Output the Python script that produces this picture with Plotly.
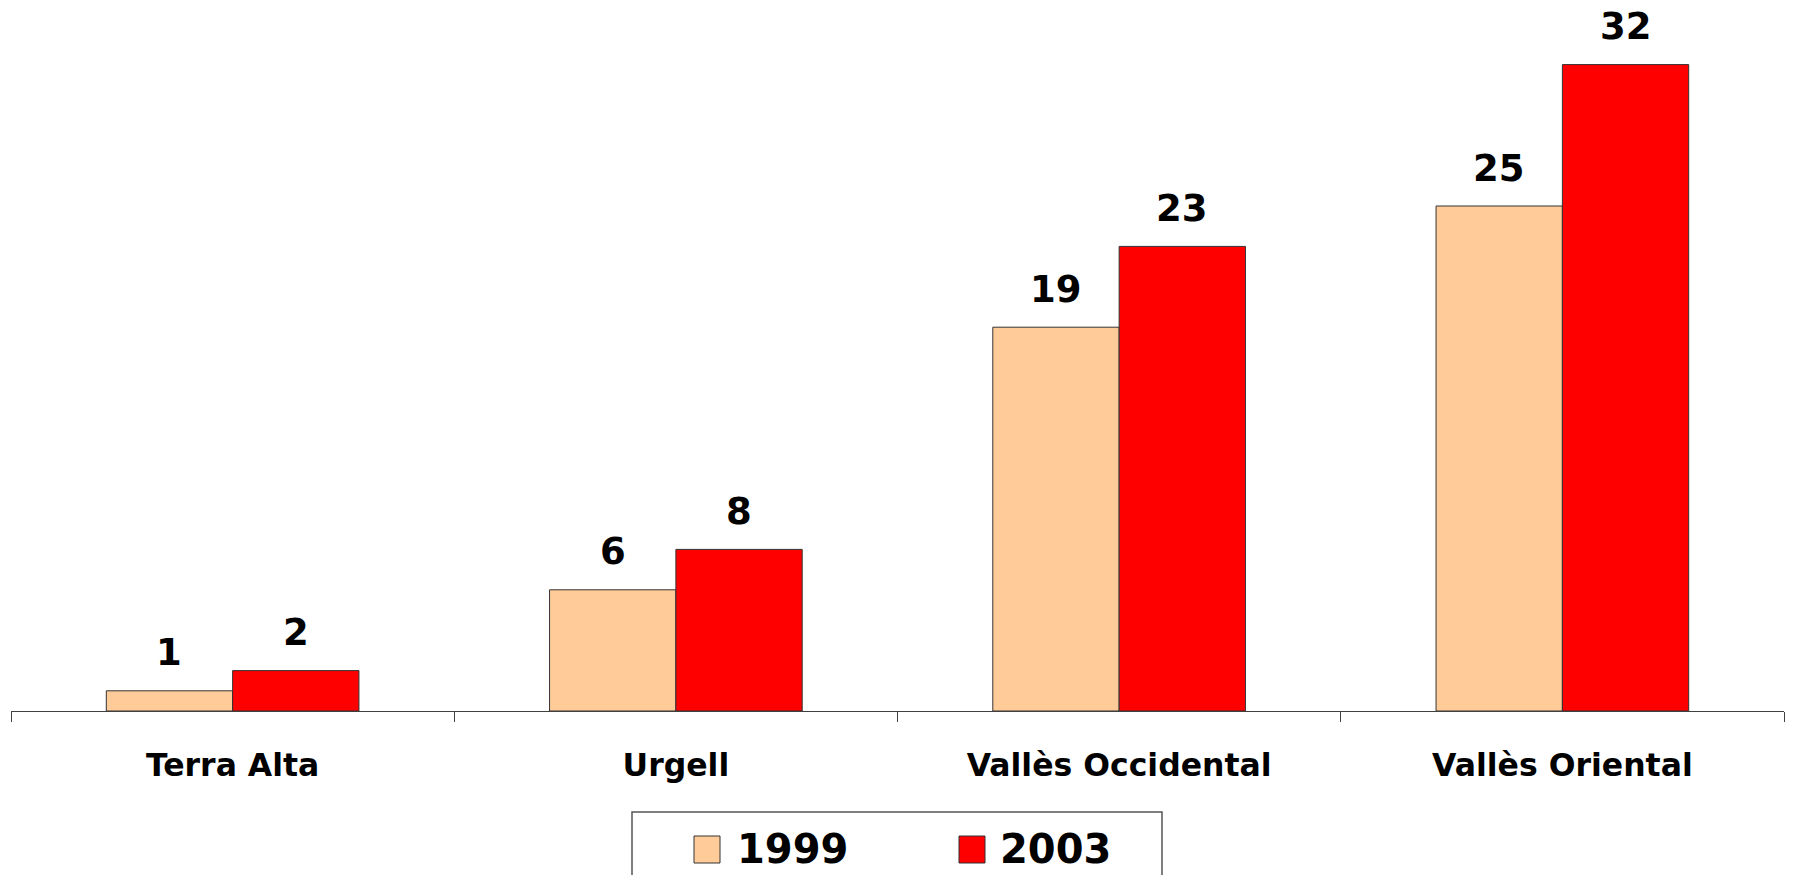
import plotly.graph_objects as go

categories = ["Terra Alta", "Urgell", "Vallès Occidental", "Vallès Oriental"]
series_names = ["1999", "2003"]
values_1999 = [1, 6, 19, 25]
values_2003 = [2, 8, 23, 32]
series_values = [values_1999, values_2003]
colors = ["#FFCC99", "#FF0000"]

W, H = 1793, 875
ml, mr, mt, mb = 11, 9, 10, 164
plot_w = W - ml - mr
plot_h = H - mt - mb
bargap = 0.43
ymax = plot_h / 20.2

FONT = "DejaVu Sans, Verdana, sans-serif"

fig = go.Figure()
for name, vals, col in zip(series_names, series_values, colors):
    fig.add_trace(go.Bar(
        x=categories, y=vals, name=name,
        marker=dict(color=col, line=dict(color="#333333", width=1)),
        showlegend=False, hoverinfo="skip",
    ))

# value labels above bars
cat_px = plot_w / len(categories)
bar_px = cat_px * (1 - bargap) / len(series_names)
annotations = []
for i, vals in enumerate(series_values):
    shift = (i - (len(series_names) - 1) / 2) * bar_px
    for c, v in zip(categories, vals):
        annotations.append(dict(
            x=c, y=v, xref="x", yref="y", text=f"<b>{v}</b>",
            showarrow=False, xshift=shift, yshift=38, yanchor="middle",
            font=dict(family=FONT, size=37, color="black"),
        ))

# manual legend
def px_x(X):
    return (X - ml) / plot_w

def px_y(Y):
    return (H - mb - Y) / plot_h

shapes = [dict(type="rect", xref="paper", yref="paper",
               x0=px_x(632), x1=px_x(1162), y0=px_y(812), y1=px_y(895),
               line=dict(color="#555555", width=1.5), fillcolor="white")]
legend_pos = [(694, 735), (959, 998)]
for (sx, tx), name, col in zip(legend_pos, series_names, colors):
    shapes.append(dict(type="rect", xref="paper", yref="paper",
                       x0=px_x(sx), x1=px_x(sx + 26), y0=px_y(863), y1=px_y(836),
                       line=dict(color="#333333", width=1), fillcolor=col))
    annotations.append(dict(x=px_x(tx), y=px_y(849), xref="paper", yref="paper",
                            text=f"<b>{name}</b>", showarrow=False,
                            xanchor="left", yanchor="middle",
                            font=dict(family=FONT, size=40, color="black")))

fig.update_layout(
    width=W, height=H,
    margin=dict(l=ml, r=mr, t=mt, b=mb),
    paper_bgcolor="white", plot_bgcolor="white",
    barmode="group", bargap=bargap, bargroupgap=0,
    annotations=annotations, shapes=shapes,
    xaxis=dict(
        type="category", range=[-0.5, len(categories) - 0.5],
        showline=True, linecolor="#404040", linewidth=1,
        ticks="outside", ticklen=10, tickcolor="#404040", tickwidth=1,
        tickson="boundaries", showgrid=False, zeroline=False,
        tickfont=dict(family=FONT, size=31.5, color="black", weight="bold"),
        ticklabelstandoff=26,
    ),
    yaxis=dict(range=[0, ymax], visible=False, showgrid=False, zeroline=False),
)

fig.write_html(
    "out.html",
    config={"displayModeBar": False},
    post_script="document.body.style.margin='0';document.body.style.overflow='hidden';",
)
